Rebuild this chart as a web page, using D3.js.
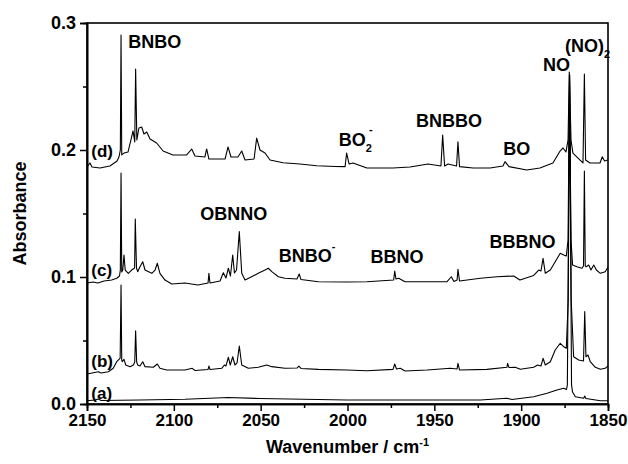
<!DOCTYPE html>
<html><head><meta charset="utf-8">
<script src="https://cdn.jsdelivr.net/npm/d3@7/dist/d3.min.js"></script>
<style>
body{margin:0;background:#fff;}
svg text{font-family:"Liberation Sans",Arial,Helvetica,sans-serif;font-weight:bold;fill:#000;}
</style></head>
<body><svg id="chart" width="628" height="464"></svg>
<script>
// ---- data: [wavenumber (cm-1), absorbance]
const traceD = [[2150.0,0.1866],[2148.3,0.1898],[2147.1,0.1866],[2142.5,0.1858],[2136.8,0.1874],[2132.7,0.1913],[2131.6,0.1945],[2130.8,0.2],[2130.4,0.2906],[2130.0,0.1961],[2128.7,0.1976],[2126.4,0.1984],[2124.7,0.2079],[2123.5,0.2150],[2122.5,0.2063],[2122.0,0.2638],[2121.3,0.2079],[2120.1,0.2173],[2118.5,0.2181],[2117.2,0.2126],[2115.6,0.2142],[2113.7,0.2087],[2109.9,0.2055],[2106.2,0.1992],[2100.5,0.1961],[2092.6,0.1961],[2089.7,0.2008],[2087.8,0.1953],[2082.1,0.1945],[2081.1,0.2008],[2079.8,0.1929],[2070.5,0.1929],[2068.8,0.2024],[2067.1,0.1945],[2063.1,0.1945],[2060.9,0.1992],[2059.0,0.1921],[2053.8,0.1929],[2052.3,0.2094],[2050.4,0.2],[2047.5,0.1976],[2044.6,0.1921],[2037.1,0.19],[2027.4,0.189],[2017.7,0.1876],[2007.2,0.187],[2001.4,0.1869],[2000.5,0.1976],[1999.1,0.189],[1996.8,0.1898],[1988.9,0.1858],[1973.8,0.1858],[1964.0,0.1866],[1953.6,0.189],[1946.2,0.1874],[1945.2,0.2118],[1944.1,0.1874],[1942.1,0.189],[1937.2,0.1874],[1936.4,0.2065],[1935.5,0.1869],[1927.7,0.1858],[1917.9,0.1858],[1910.5,0.1874],[1909.3,0.1908],[1907.0,0.1869],[1896.8,0.1843],[1889.2,0.1858],[1881.7,0.1898],[1877.6,0.1992],[1875.9,0.2016],[1874.2,0.1984],[1873.0,0.2079],[1872.3,0.2614],[1871.3,0.2079],[1870.2,0.1976],[1866.1,0.1921],[1864.4,0.1898],[1863.6,0.2598],[1862.9,0.1921],[1860.4,0.1898],[1854.6,0.1898],[1853.3,0.1947],[1852.0,0.1913],[1850.0,0.1921]];
const traceC = [[2150.0,0.0953],[2146.5,0.0961],[2143.7,0.0953],[2140.2,0.0969],[2135.8,0.0976],[2132.9,0.099],[2131.3,0.1008],[2130.8,0.1055],[2130.4,0.1819],[2130.0,0.1039],[2129.4,0.1055],[2128.7,0.1173],[2128.0,0.1055],[2126.2,0.1029],[2124.3,0.1055],[2122.6,0.1071],[2122.2,0.1457],[2121.5,0.1071],[2120.8,0.1042],[2119.5,0.1081],[2117.9,0.112],[2116.6,0.1055],[2112.7,0.1029],[2110.8,0.1055],[2109.5,0.1108],[2108.0,0.1029],[2105.1,0.0976],[2101.2,0.0945],[2093.6,0.0953],[2086.1,0.0937],[2080.3,0.0953],[2079.8,0.1029],[2079.2,0.0953],[2073.4,0.0969],[2071.5,0.1034],[2070.0,0.0992],[2068.6,0.1069],[2067.4,0.1008],[2066.1,0.1173],[2065.1,0.1031],[2063.9,0.1055],[2062.3,0.1357],[2060.9,0.1029],[2059.0,0.0976],[2055.2,0.1002],[2051.4,0.1029],[2047.5,0.1055],[2045.6,0.1069],[2043.6,0.1042],[2039.8,0.1002],[2036.0,0.099],[2029.1,0.0984],[2027.8,0.1024],[2026.8,0.098],[2016.8,0.0963],[2000.5,0.0961],[1988.8,0.0963],[1973.4,0.0976],[1972.8,0.1047],[1972.1,0.0984],[1970.5,0.099],[1966.9,0.0963],[1958.1,0.0963],[1942.7,0.0963],[1940.2,0.1002],[1938.7,0.0965],[1936.9,0.0976],[1936.4,0.1061],[1935.5,0.0969],[1923.5,0.099],[1913.9,0.1002],[1904.3,0.1008],[1900.7,0.0976],[1892.8,0.1012],[1889.9,0.1055],[1888.6,0.1047],[1887.4,0.1147],[1886.1,0.1029],[1883.2,0.1055],[1880.4,0.112],[1877.5,0.1187],[1875.5,0.1173],[1874.0,0.1165],[1873.0,0.1291],[1872.2,0.259],[1871.3,0.1291],[1870.4,0.1094],[1867.9,0.1081],[1865.0,0.1069],[1864.1,0.1087],[1863.6,0.1835],[1863.1,0.1087],[1862.5,0.1081],[1861.1,0.1094],[1859.8,0.1055],[1858.2,0.1094],[1856.7,0.1055],[1854.4,0.1029],[1851.6,0.1042],[1850.0,0.1079]];
const traceB = [[2150,0.0236],[2147.1,0.0244],[2143.5,0.0254],[2141.9,0.0244],[2137.7,0.0254],[2134.9,0.0281],[2132.9,0.0333],[2132.0,0.0346],[2130.9,0.0362],[2130.4,0.0937],[2130.0,0.0346],[2129.7,0.0333],[2128.7,0.0352],[2127.7,0.0307],[2125.2,0.0294],[2123.3,0.0307],[2122.5,0.0331],[2122.0,0.0577],[2121.4,0.0331],[2120.8,0.0307],[2119.5,0.0299],[2117.9,0.0333],[2116.6,0.0294],[2111.8,0.0289],[2109.5,0.0315],[2108.0,0.0281],[2104.1,0.0268],[2093.6,0.0268],[2089.4,0.0281],[2087.8,0.0264],[2080.3,0.0272],[2079.8,0.0299],[2079.2,0.0272],[2072.4,0.0281],[2070.9,0.0307],[2070.0,0.0299],[2068.6,0.0368],[2067.5,0.0307],[2066.1,0.0372],[2064.8,0.0307],[2063.6,0.0323],[2062.3,0.0457],[2060.9,0.0307],[2057.1,0.0281],[2051.4,0.0289],[2046.5,0.0307],[2043.6,0.0294],[2036.0,0.0281],[2029.1,0.0283],[2028.0,0.0299],[2026.8,0.028],[2016.8,0.0273],[2000.5,0.0268],[1988.8,0.0262],[1973.8,0.0273],[1972.8,0.0315],[1971.8,0.0276],[1969.6,0.0281],[1966.9,0.026],[1954.2,0.0268],[1940.8,0.0281],[1936.9,0.0276],[1936.4,0.032],[1935.5,0.0268],[1919.7,0.0273],[1908.2,0.0289],[1907.8,0.032],[1907.0,0.0287],[1903.4,0.0289],[1900.5,0.0273],[1892.8,0.0289],[1890.5,0.0307],[1888.6,0.0299],[1887.4,0.036],[1886.1,0.0307],[1883.2,0.0333],[1880.4,0.0425],[1877.5,0.0478],[1875.5,0.0451],[1874.0,0.0439],[1872.9,0.0819],[1872.1,0.259],[1871.2,0.0819],[1869.8,0.0372],[1866.9,0.0346],[1864.1,0.0339],[1863.4,0.0727],[1862.7,0.0372],[1861.5,0.0386],[1860.2,0.0333],[1857.3,0.0289],[1854.4,0.0273],[1851.6,0.0281],[1850.0,0.0299]];
const traceA = [[2150,0.0026],[2145.4,0.0031],[2143.5,0.0039],[2141.9,0.0028],[2119.5,0.0031],[2093.6,0.0037],[2068.6,0.0051],[2050.4,0.0043],[2000.3,0.0031],[1923.5,0.0031],[1908.2,0.0045],[1905.3,0.0035],[1892.8,0.0057],[1885.1,0.0084],[1879.4,0.011],[1875.5,0.0124],[1873.9,0.0114],[1873.4,0.015],[1872.1,0.259],[1871.0,0.015],[1870.4,0.0094],[1868.8,0.0057],[1864.0,0.0045],[1863.4,0.0063],[1862.7,0.0043],[1854.4,0.0026],[1850,0.0026]];

const xTicks = [2150, 2100, 2050, 2000, 1950, 1900, 1850];
const xMinorTicks = [2125, 2075, 2025, 1975, 1925, 1875];
const yTicks = [0.0, 0.1, 0.2, 0.3];
const yMinorTicks = [0.05, 0.15, 0.25];
const traceNames = ["(a)", "(b)", "(c)", "(d)"];
const traceNamePos = [[2147.5, 0.004], [2147.5, 0.029], [2147.5, 0.1008], [2147.5, 0.1945]];
// peak labels: text, subscript, superscript, wavenumber (left edge), absorbance (baseline)
const peakLabels = [
  ["BNBO", "", "", 2126.2, 0.280],
  ["BO", "2", "-", 2005.0, 0.203],
  ["BNBBO", "", "", 1960.5, 0.2181],
  ["BO", "", "", 1910.3, 0.1961],
  ["NO", "", "", 1887.4, 0.2622],
  ["(NO)", "2", "", 1874.7, 0.2772],
  ["OBNNO", "", "", 2084.8, 0.1449],
  ["BNBO", "", "-", 2039.6, 0.1120],
  ["BBNO", "", "", 1986.7, 0.1110],
  ["BBBNO", "", "", 1918.2, 0.1228]
];

const svg = d3.select("#chart");
const m = {l:87, r:20, t:23, b:60};
const W = 628, H = 464;
const x = d3.scaleLinear().domain([2150, 1850]).range([m.l, W - m.r]);
const y = d3.scaleLinear().domain([0, 0.3]).range([H - m.b, m.t]);

svg.append("clipPath").attr("id","clip").append("rect")
  .attr("x", m.l).attr("y", m.t).attr("width", W-m.l-m.r).attr("height", H-m.t-m.b);

const line = d3.line().x(d => x(d[0])).y(d => y(d[1]));
const g = svg.append("g").attr("clip-path","url(#clip)");
[traceA, traceB, traceC, traceD].forEach(t => {
  g.append("path").datum(t).attr("d", line)
    .attr("fill","none").attr("stroke","#000").attr("stroke-width",1.1).attr("stroke-linejoin","round");
});

// frame
svg.append("rect").attr("x", m.l).attr("y", m.t).attr("width", W-m.l-m.r).attr("height", H-m.t-m.b)
  .attr("fill","none").attr("stroke","#000").attr("stroke-width",1.6);

// axes
svg.append("g").attr("class","xax").attr("transform",`translate(0,${H-m.b})`)
  .call(d3.axisBottom(x).tickValues(xTicks).tickSize(7).tickPadding(3).tickFormat(d3.format("d")));
svg.append("g").attr("transform",`translate(0,${H-m.b})`)
  .call(d3.axisBottom(x).tickValues(xMinorTicks).tickSize(4).tickFormat(""));
svg.append("g").attr("class","yax").attr("transform",`translate(${m.l},0)`)
  .call(d3.axisLeft(y).tickValues(yTicks).tickSize(7).tickPadding(4).tickFormat(d3.format(".1f")));
svg.append("g").attr("transform",`translate(${m.l},0)`)
  .call(d3.axisLeft(y).tickValues(yMinorTicks).tickSize(4).tickFormat(""));
svg.selectAll(".domain").attr("stroke","#000").attr("stroke-width",1.6);
svg.selectAll(".tick line").attr("stroke","#000").attr("stroke-width",1.5);
svg.selectAll(".xax .tick text").style("font-size","17px").style("font-weight","bold").attr("fill","#000");
svg.selectAll(".yax .tick text").style("font-size","18px").style("font-weight","bold").attr("fill","#000");

// axis titles
svg.append("text").attr("x", (m.l + W - m.r)/2).attr("y", 453).attr("text-anchor","middle")
  .style("font-size","18px").html('Wavenumber / cm<tspan dy="-7" font-size="11px">-1</tspan>');
svg.append("text").attr("transform",`translate(26,${(m.t + H - m.b)/2}) rotate(-90)`)
  .attr("text-anchor","middle").style("font-size","18px").text("Absorbance");

// trace names
traceNames.forEach((n,i) => {
  svg.append("text").attr("x", x(traceNamePos[i][0])).attr("y", y(traceNamePos[i][1]))
    .style("font-size","17px").text(n);
});

// peak labels
peakLabels.forEach(p => {
  const t = svg.append("text").attr("x", x(p[3])).attr("y", y(p[4])).style("font-size","18px");
  t.append("tspan").text(p[0]);
  if (p[1]) t.append("tspan").attr("dy", 6).style("font-size","11px").text(p[1]);
  if (p[2]) t.append("tspan").attr("dy", p[1] ? -19 : -12).attr("dx", p[1] ? -3 : 0).style("font-size","11px").text(p[2]);
});
</script></body></html>
